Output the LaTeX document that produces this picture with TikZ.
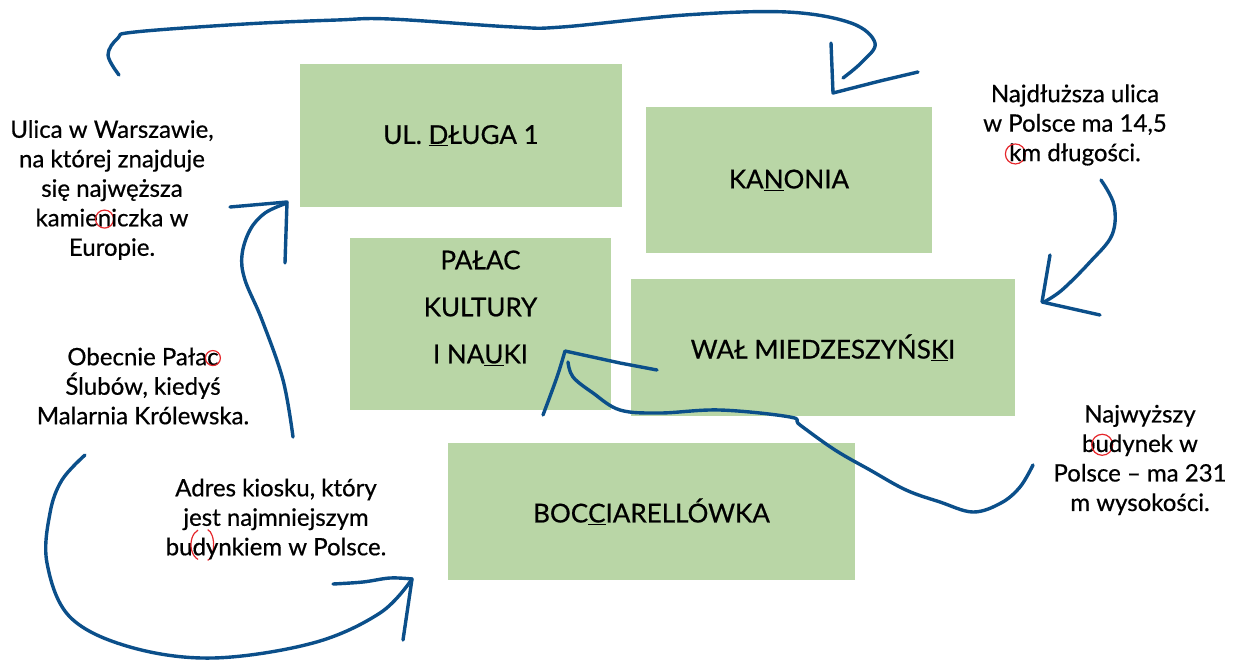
\documentclass[tikz,border=0pt]{standalone}
\usepackage{fontspec}
\setmainfont{Lato}[FakeBold=0.6]
\definecolor{boxgreen}{HTML}{B9D6A6}
\definecolor{penblue}{HTML}{0B4F8A}
\definecolor{penred}{HTML}{E5262B}
\newcommand\rcirc[2]{\tikz[baseline=(X.base)]{\node[inner sep=0pt](X){#1};\draw[overlay,penred,line width=1.2pt] ([yshift=0.3em]X.base) circle (#2);}}
\newcommand\rparen[1]{\tikz[baseline=(X.base)]{\node[inner sep=0pt](X){#1};\draw[overlay,penred,line width=1.2pt] ([yshift=0.45em]X.base) ++(-0.05em,0.6em) arc[start angle=110,end angle=250,x radius=0.45em,y radius=0.65em];\draw[overlay,penred,line width=1.2pt] ([yshift=0.45em]X.base) ++(0.35em,0.62em) arc[start angle=80,end angle=-80,x radius=0.3em,y radius=0.65em];}}
\begin{document}
\begin{tikzpicture}[x=1pt,y=-1pt,
  box/.style={fill=boxgreen,draw=none,inner sep=0pt,font=\fontsize{26}{47}\selectfont,align=center},
  note/.style={inner sep=0pt,align=center,font=\fontsize{24}{29.5}\selectfont},
  pen/.style={draw=penblue,line width=3.4pt,line cap=round,line join=round}]
\useasboundingbox (0,0) rectangle (1236,661);
% boxes
\node[box,minimum width=322pt,minimum height=143pt] (dluga) at (461,135.5) {UL. \underline{D}ŁUGA 1};
\node[box,minimum width=286pt,minimum height=146pt] (kanonia) at (789,180) {KA\underline{N}ONIA};
\node[box,minimum width=261pt,minimum height=172pt] (palac) at (480.5,324) {};
\node[box] (palactxt) at (480.5,308) {PAŁAC\\KULTURY\\I NA\underline{U}KI};
\node[box,minimum width=384pt,minimum height=137pt] (wal) at (823,347.5) {WAŁ MIEDZESZYŃS\underline{K}I};
\node[box,minimum width=407pt,minimum height=137pt] (bocc) at (651.5,511.5) {BOC\underline{C}IARELLÓWKA};
% notes
\node[note] (n1) at (112,190) {Ulica w Warszawie,\\na której znajduje\\się najwęższa\\kamie\rcirc{n}{9pt}iczka w\\Europie.};
\node[note] (n2) at (1075,125) {Najdłuższa ulica\\w Polsce ma 14,5\\\rcirc{k}{10pt}m długości.};
\node[note] (n3) at (1140,460) {Najwyższy\\b\rcirc{u}{10.5pt}dynek w\\Polsce – ma 231\\m wysokości.};
\node[note] (n4) at (143,386) {Obecnie Pała\rcirc{c}{7.5pt}\\Ślubów, kiedyś\\Malarnia Królewska.};
\node[note] (n5) at (276,519) {Adres kiosku, który\\jest najmniejszym\\bu\rparen{d}ynkiem w Polsce.};
% top arrow  (n1 -> kanonia)
\draw[pen] plot[smooth,tension=0.6] coordinates {(119,75) (108,55) (118,38) (135,32) (245,24) (337,20) (390,19) (513,27) (562,27) (685,15) (787,12) (851,23) (875,43) (862,62) (843,78)};
\draw[pen] (831,43) -- (833,93) -- (880,81) -- (918,72);
% right top arrow (n2 -> wal)
\draw[pen] plot[smooth,tension=0.6] coordinates {(1101,180) (1114,205) (1112,235) (1090,262) (1062,290) (1044,302)};
\draw[pen] (1050,255) -- (1042,302) -- (1100,315);
% long arrow (n3 -> palac)
\draw[pen] plot[smooth,tension=0.6] coordinates {(1033,465) (1020,487) (1001,503) (973,512) (940,502) (906,490) (870,470) (835,450) (800,425) (790,417) (720,410) (660,413) (620,410) (593,393) (573,377) (568,362)};
\draw[pen] plot[smooth,tension=0.6] coordinates {(543,415) (557,377) (565,351)} -- (620,363) -- (657,370);
% left arrow (n4 -> dluga)
\draw[pen] plot[smooth,tension=0.6] coordinates {(293,437) (283,380) (262,320) (245,280) (242,255) (250,230) (265,213) (287,203)};
\draw[pen] (230,207) -- (287,202) -- (285,263);
% bottom-left arrow (n4 -> bocc)
\draw[pen] plot[smooth,tension=0.6] coordinates {(85,455) (62,480) (50,513) (47,563) (70,617) (130,647) (213,658) (313,643) (380,613) (412,579)};
\draw[pen] plot[smooth,tension=0.6] coordinates {(333,584) (363,582) (390,578) (412,579)} -- (403,640);
\end{tikzpicture}
\end{document}
